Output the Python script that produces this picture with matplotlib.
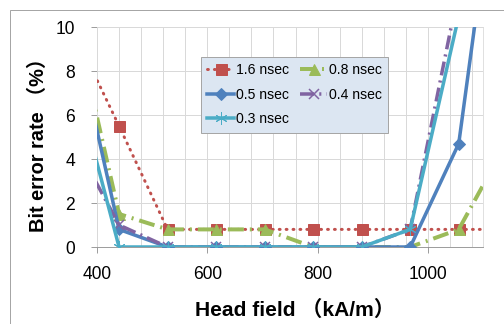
import matplotlib
matplotlib.use("Agg")
import matplotlib.pyplot as plt
from matplotlib.patches import Rectangle
from matplotlib.ticker import MultipleLocator

plt.rcParams['font.family'] = ['Liberation Sans', 'Noto Sans CJK JP']

head_field = [352, 440, 528, 616, 704, 792, 880, 968, 1056, 1144]
ber_16 = [10.1, 5.5, 0.8, 0.8, 0.8, 0.8, 0.8, 0.8, 0.8, 0.8]
ber_08 = [11.2, 1.5, 0.8, 0.8, 0.8, 0.0, 0.0, 0.0, 0.8, 4.8]
ber_05 = [10.7, 0.8, 0.0, 0.0, 0.0, 0.0, 0.0, 0.0, 4.7, 21.0]
ber_04 = [5.1, 1.0, 0.0, 0.0, 0.0, 0.0, 0.0, 0.8, 11.7, 20.0]
ber_03 = [8.4, 0.0, 0.0, 0.0, 0.0, 0.0, 0.0, 0.8, 10.5, 20.0]
labels = ["1.6 nsec", "0.8 nsec", "0.5 nsec", "0.4 nsec", "0.3 nsec"]

W, H = 504, 324
fig = plt.figure(figsize=(W / 72, H / 72), dpi=72)
fig.patches.append(Rectangle((10 / W, -0.1), 1.2, (H - 10) / H + 0.1,
                             transform=fig.transFigure, fill=False,
                             ec='#a6a6a6', lw=1))
ax = fig.add_axes([97 / W, (H - 247) / H, 386 / W, 220 / H])

h16, = ax.plot(head_field, ber_16, color='#C0504D', lw=3, ls=(0, (0.3, 2)),
               dash_capstyle='round', marker='s', ms=11, zorder=3)
h08, = ax.plot(head_field, ber_08, color='#9BBB59', lw=4,
               ls=(0, (4, 1.5, 0.5, 1.5)), marker='^', ms=11, zorder=3)
h05, = ax.plot(head_field, ber_05, color='#4F81BD', lw=3.5, ls='-',
               marker='D', ms=8, zorder=4)
h04, = ax.plot(head_field, ber_04, color='#8064A2', lw=3.5,
               ls=(0, (4, 1.5, 0.6, 1.5)), marker='x', ms=10, mew=1.5, zorder=4)
h03, = ax.plot(head_field, ber_03, color='#4BACC6', lw=3.5, ls='-',
               marker=(6, 2, 0), ms=12, mew=1, zorder=5)

ax.set_xlim(400, 1100)
ax.set_ylim(0, 10)
ax.xaxis.set_major_locator(MultipleLocator(200))
ax.xaxis.set_minor_locator(MultipleLocator(40))
ax.yaxis.set_major_locator(MultipleLocator(2))
ax.grid(which='minor', axis='x', color='#d9d9d9', lw=1)
ax.grid(which='major', axis='x', color='#d9d9d9', lw=1)
ax.grid(which='major', axis='y', color='#d9d9d9', lw=1)
ax.set_axisbelow(True)
ax.tick_params(axis='x', which='minor', length=0)
ax.tick_params(axis='x', which='major', length=6, color='#868686', pad=13,
               labelsize=17.5)
ax.tick_params(axis='y', length=6, color='#868686', pad=16, labelsize=17.5)
for s in ['top', 'right', 'left']:
    ax.spines[s].set_color('#d9d9d9')
ax.spines['bottom'].set_color('#868686')

ax.set_xlabel("Head field （kA/m）", fontsize=21, fontweight='bold', va='center')
ax.xaxis.set_label_coords((295 - 97) / 386, -(310 - 247) / 220)
ax.set_ylabel("Bit error rate （%）", fontsize=20, fontweight='bold', va='center')
ax.yaxis.set_label_coords((38 - 97) / 386, (247 - 140) / 220)

leg = ax.legend([h16, h05, h03, h08, h04],
                [labels[0], labels[2], labels[4], labels[1], labels[3]],
                ncol=2, loc='upper left',
                bbox_to_anchor=((201 - 97) / 386, 1 - (57 - 27) / 220),
                borderaxespad=0, fontsize=14, frameon=True, fancybox=False,
                handlelength=1.9, handletextpad=0.15, columnspacing=0.8,
                borderpad=0.45, labelspacing=0.75)
leg.get_frame().set_facecolor('#dce6f2')
leg.get_frame().set_edgecolor('#a6a6a6')
leg.get_frame().set_alpha(1)

fig.savefig("out.png", dpi=72)
